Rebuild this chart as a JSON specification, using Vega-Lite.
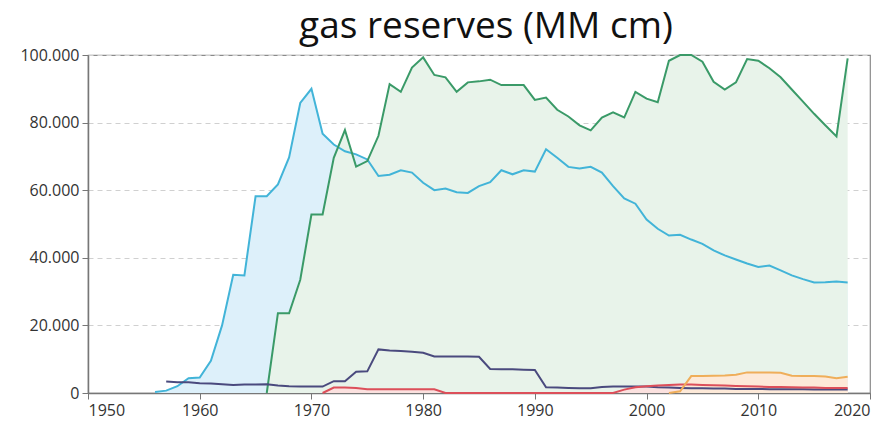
{
  "$schema": "https://vega.github.io/schema/vega-lite/v6.json",
  "autosize": "none",
  "width": 782,
  "height": 338,
  "padding": {"left": 88, "top": 55, "right": 23, "bottom": 38},
  "background": "white",
  "config": {
    "locale": {"number": {"decimal": ",", "thousands": ".", "grouping": [3], "currency": ["", ""]}},
    "view": {"stroke": "#8a8a8a", "strokeWidth": 1.2},
    "font": "Open Sans"
  },
  "title": {
    "text": "gas reserves (MM cm)",
    "fontSize": 37,
    "font": "Open Sans",
    "fontWeight": "normal",
    "color": "#111111",
    "anchor": "middle",
    "dx": 7,
    "offset": 1
  },
  "datasets": {
    "blue": [
      {"year": 1956, "value": 300}, {"year": 1957, "value": 700}, {"year": 1958, "value": 2000},
      {"year": 1959, "value": 4400}, {"year": 1960, "value": 4600}, {"year": 1961, "value": 9500},
      {"year": 1962, "value": 20000}, {"year": 1963, "value": 35000}, {"year": 1964, "value": 34800},
      {"year": 1965, "value": 58200}, {"year": 1966, "value": 58200}, {"year": 1967, "value": 61700},
      {"year": 1968, "value": 69700}, {"year": 1969, "value": 85800}, {"year": 1970, "value": 90000},
      {"year": 1971, "value": 76700}, {"year": 1972, "value": 73500}, {"year": 1973, "value": 71500},
      {"year": 1974, "value": 70600}, {"year": 1975, "value": 69100}, {"year": 1976, "value": 64200},
      {"year": 1977, "value": 64600}, {"year": 1978, "value": 65900}, {"year": 1979, "value": 65200},
      {"year": 1980, "value": 62200}, {"year": 1981, "value": 60000}, {"year": 1982, "value": 60500},
      {"year": 1983, "value": 59400}, {"year": 1984, "value": 59200}, {"year": 1985, "value": 61200},
      {"year": 1986, "value": 62400}, {"year": 1987, "value": 65900}, {"year": 1988, "value": 64700},
      {"year": 1989, "value": 65900}, {"year": 1990, "value": 65500}, {"year": 1991, "value": 72100},
      {"year": 1992, "value": 69600}, {"year": 1993, "value": 66900}, {"year": 1994, "value": 66400},
      {"year": 1995, "value": 66900}, {"year": 1996, "value": 65200}, {"year": 1997, "value": 61200},
      {"year": 1998, "value": 57600}, {"year": 1999, "value": 56000}, {"year": 2000, "value": 51300},
      {"year": 2001, "value": 48600}, {"year": 2002, "value": 46600}, {"year": 2003, "value": 46800},
      {"year": 2004, "value": 45400}, {"year": 2005, "value": 44100}, {"year": 2006, "value": 42200},
      {"year": 2007, "value": 40700}, {"year": 2008, "value": 39500}, {"year": 2009, "value": 38300},
      {"year": 2010, "value": 37300}, {"year": 2011, "value": 37700}, {"year": 2012, "value": 36300},
      {"year": 2013, "value": 34800}, {"year": 2014, "value": 33700}, {"year": 2015, "value": 32700},
      {"year": 2016, "value": 32800}, {"year": 2017, "value": 33000}, {"year": 2018, "value": 32700}
    ],
    "green": [
      {"year": 1966, "value": 0}, {"year": 1967, "value": 23600}, {"year": 1968, "value": 23600},
      {"year": 1969, "value": 33500}, {"year": 1970, "value": 52800}, {"year": 1971, "value": 52800},
      {"year": 1972, "value": 69600}, {"year": 1973, "value": 77800}, {"year": 1974, "value": 67000},
      {"year": 1975, "value": 68600}, {"year": 1976, "value": 76100}, {"year": 1977, "value": 91400},
      {"year": 1978, "value": 89100}, {"year": 1979, "value": 96300}, {"year": 1980, "value": 99300},
      {"year": 1981, "value": 94100}, {"year": 1982, "value": 93400}, {"year": 1983, "value": 89100},
      {"year": 1984, "value": 91900}, {"year": 1985, "value": 92200}, {"year": 1986, "value": 92700},
      {"year": 1987, "value": 91100}, {"year": 1988, "value": 91100}, {"year": 1989, "value": 91100},
      {"year": 1990, "value": 86700}, {"year": 1991, "value": 87400}, {"year": 1992, "value": 83800},
      {"year": 1993, "value": 81800}, {"year": 1994, "value": 79200}, {"year": 1995, "value": 77700},
      {"year": 1996, "value": 81500}, {"year": 1997, "value": 83000}, {"year": 1998, "value": 81500},
      {"year": 1999, "value": 89100}, {"year": 2000, "value": 87100}, {"year": 2001, "value": 86000},
      {"year": 2002, "value": 98300}, {"year": 2003, "value": 100000}, {"year": 2004, "value": 100000},
      {"year": 2005, "value": 98000}, {"year": 2006, "value": 92100}, {"year": 2007, "value": 89800},
      {"year": 2008, "value": 91900}, {"year": 2009, "value": 98800}, {"year": 2010, "value": 98300},
      {"year": 2011, "value": 96100}, {"year": 2012, "value": 93400}, {"year": 2013, "value": 89800},
      {"year": 2014, "value": 86200}, {"year": 2015, "value": 82600}, {"year": 2016, "value": 79200},
      {"year": 2017, "value": 75900}, {"year": 2018, "value": 99000}
    ],
    "navy": [
      {"year": 1957, "value": 3400}, {"year": 1958, "value": 3200}, {"year": 1959, "value": 3200},
      {"year": 1960, "value": 2900}, {"year": 1961, "value": 2800}, {"year": 1962, "value": 2600},
      {"year": 1963, "value": 2400}, {"year": 1964, "value": 2500}, {"year": 1965, "value": 2500},
      {"year": 1966, "value": 2600}, {"year": 1967, "value": 2200}, {"year": 1968, "value": 2000},
      {"year": 1969, "value": 1900}, {"year": 1970, "value": 1900}, {"year": 1971, "value": 1900},
      {"year": 1972, "value": 3500}, {"year": 1973, "value": 3500}, {"year": 1974, "value": 6300},
      {"year": 1975, "value": 6400}, {"year": 1976, "value": 12900}, {"year": 1977, "value": 12600},
      {"year": 1978, "value": 12400}, {"year": 1979, "value": 12200}, {"year": 1980, "value": 11900},
      {"year": 1981, "value": 10800}, {"year": 1982, "value": 10800}, {"year": 1983, "value": 10800},
      {"year": 1984, "value": 10800}, {"year": 1985, "value": 10700}, {"year": 1986, "value": 7100},
      {"year": 1987, "value": 7000}, {"year": 1988, "value": 7000}, {"year": 1989, "value": 6900},
      {"year": 1990, "value": 6800}, {"year": 1991, "value": 1700}, {"year": 1992, "value": 1600},
      {"year": 1993, "value": 1500}, {"year": 1994, "value": 1400}, {"year": 1995, "value": 1400},
      {"year": 1996, "value": 1800}, {"year": 1997, "value": 1900}, {"year": 1998, "value": 1900},
      {"year": 1999, "value": 1900}, {"year": 2000, "value": 1900}, {"year": 2001, "value": 1700},
      {"year": 2002, "value": 1600}, {"year": 2003, "value": 1500}, {"year": 2004, "value": 1400},
      {"year": 2005, "value": 1400}, {"year": 2006, "value": 1300}, {"year": 2007, "value": 1300},
      {"year": 2008, "value": 1200}, {"year": 2009, "value": 1200}, {"year": 2010, "value": 1200},
      {"year": 2011, "value": 1100}, {"year": 2012, "value": 1100}, {"year": 2013, "value": 1100},
      {"year": 2014, "value": 1100}, {"year": 2015, "value": 1000}, {"year": 2016, "value": 1000},
      {"year": 2017, "value": 1000}, {"year": 2018, "value": 1000}
    ],
    "red": [
      {"year": 1971, "value": 0}, {"year": 1972, "value": 1600}, {"year": 1973, "value": 1600},
      {"year": 1974, "value": 1500}, {"year": 1975, "value": 1100}, {"year": 1976, "value": 1100},
      {"year": 1977, "value": 1100}, {"year": 1978, "value": 1100}, {"year": 1979, "value": 1100},
      {"year": 1980, "value": 1100}, {"year": 1981, "value": 1100}, {"year": 1982, "value": 0},
      {"year": 1983, "value": 0}, {"year": 1984, "value": 0}, {"year": 1985, "value": 0},
      {"year": 1986, "value": 0}, {"year": 1987, "value": 0}, {"year": 1988, "value": 0},
      {"year": 1989, "value": 0}, {"year": 1990, "value": 0}, {"year": 1991, "value": 0},
      {"year": 1992, "value": 0}, {"year": 1993, "value": 0}, {"year": 1994, "value": 0},
      {"year": 1995, "value": 0}, {"year": 1996, "value": 0}, {"year": 1997, "value": 0},
      {"year": 1998, "value": 1000}, {"year": 1999, "value": 1700}, {"year": 2000, "value": 2000},
      {"year": 2001, "value": 2200}, {"year": 2002, "value": 2400}, {"year": 2003, "value": 2500},
      {"year": 2004, "value": 2500}, {"year": 2005, "value": 2400}, {"year": 2006, "value": 2300},
      {"year": 2007, "value": 2200}, {"year": 2008, "value": 2100}, {"year": 2009, "value": 2000},
      {"year": 2010, "value": 1900}, {"year": 2011, "value": 1800}, {"year": 2012, "value": 1800},
      {"year": 2013, "value": 1700}, {"year": 2014, "value": 1600}, {"year": 2015, "value": 1600},
      {"year": 2016, "value": 1500}, {"year": 2017, "value": 1500}, {"year": 2018, "value": 1500}
    ],
    "orange": [
      {"year": 2002, "value": 0}, {"year": 2003, "value": 500}, {"year": 2004, "value": 5000},
      {"year": 2005, "value": 5000}, {"year": 2006, "value": 5100}, {"year": 2007, "value": 5200},
      {"year": 2008, "value": 5400}, {"year": 2009, "value": 6100}, {"year": 2010, "value": 6100},
      {"year": 2011, "value": 6100}, {"year": 2012, "value": 6000}, {"year": 2013, "value": 5100},
      {"year": 2014, "value": 5000}, {"year": 2015, "value": 5000}, {"year": 2016, "value": 4900},
      {"year": 2017, "value": 4400}, {"year": 2018, "value": 4800}
    ]
  },
  "encoding": {
    "x": {
      "field": "year", "type": "quantitative",
      "scale": {"domain": [1950, 2020], "nice": false, "zero": false},
      "axis": {
        "title": null, "format": "d", "values": [1950, 1960, 1970, 1980, 1990, 2000, 2010, 2020],
        "grid": false, "domainColor": "#777", "domainWidth": 1.5, "tickColor": "#777", "tickSize": 6,
        "labelFontSize": 16, "labelColor": "#333", "labelPadding": 3
      }
    },
    "y": {
      "field": "value", "type": "quantitative",
      "scale": {"domain": [0, 100000], "nice": false},
      "axis": {
        "title": null, "format": ",d", "values": [0, 20000, 40000, 60000, 80000, 100000],
        "grid": true, "gridColor": "#d0d0d0", "gridDash": [5, 4], "gridWidth": 1,
        "domainColor": "#777", "domainWidth": 1.5, "tickColor": "#777", "tickSize": 6,
        "labelFontSize": 16, "labelColor": "#333", "labelPadding": 3
      }
    }
  },
  "layer": [
    {"data": {"name": "blue"}, "mark": {"type": "area", "color": "#ddf0fa"}},
    {"data": {"name": "green"}, "mark": {"type": "area", "color": "#e8f3ea"}},
    {"data": {"name": "red"}, "mark": {"type": "area", "color": "#fbe1df"}},
    {"data": {"name": "orange"}, "mark": {"type": "area", "color": "#fde9d8"}},
    {"data": {"name": "blue"}, "mark": {"type": "line", "color": "#42b4d8", "strokeWidth": 2}},
    {"data": {"name": "green"}, "mark": {"type": "line", "color": "#3a9a68", "strokeWidth": 2}},
    {"data": {"name": "navy"}, "mark": {"type": "line", "color": "#4a4a7e", "strokeWidth": 2}},
    {"data": {"name": "red"}, "mark": {"type": "line", "color": "#dc4f5a", "strokeWidth": 2}},
    {"data": {"name": "orange"}, "mark": {"type": "line", "color": "#efae5a", "strokeWidth": 2}}
  ]
}
